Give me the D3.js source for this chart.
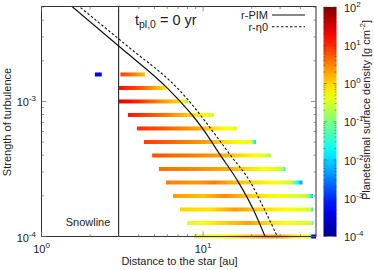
<html>
<head>
<title>Planetesimal surface density</title>
<script src="https://cdn.jsdelivr.net/npm/d3@7"></script>
<style>
body { margin: 0; background: white; }
text { font-family: "Liberation Sans", Arial, sans-serif; fill: #222; }
</style>
</head>
<body>
<svg id="chart" width="374" height="270"></svg>
<script>
// rows of the map: log10(alpha) and the read profile [r (au), log10 sigma]
const rowAlphaExp = [-2.8, -2.9, -3.0, -3.1, -3.2, -3.3, -3.4, -3.5, -3.6, -3.7, -3.8, -3.9, -4.0];
const rowProfiles = [
  [[3.08, 0.85], [3.6, 0.6], [4.38, 0.1]],
  [[3.02, 1.2], [4.0, 0.8], [5.0, 0.3], [5.99, -0.2]],
  [[3.02, 1.4], [4.0, 1.0], [5.5, 0.4], [7.0, 0.0], [8.07, -0.8]],
  [[3.43, 1.15], [5.0, 0.75], [7.0, 0.3], [9.0, -0.1], [11.7, -0.5]],
  [[3.9, 1.0], [6.0, 0.7], [9.0, 0.3], [12.0, -0.1], [16.2, -0.4]],
  [[4.31, 0.9], [7.0, 0.6], [10.0, 0.35], [14.0, -0.1], [20.0, -0.4], [20.6, -1.5], [21.2, -2.2]],
  [[4.84, 0.8], [8.0, 0.55], [12.0, 0.35], [18.0, -0.1], [24.0, -0.4], [26.3, -0.8]],
  [[5.33, 0.6], [9.0, 0.45], [14.0, 0.25], [20.0, -0.1], [28.0, -0.4], [31.0, -0.7], [32.3, -1.8]],
  [[5.9, 0.5], [9.0, 0.35], [11.9, 0.5], [15.0, 0.2], [25.0, -0.2], [35.0, -0.5], [38.0, -1.5], [41.2, -2.5]],
  [[6.52, 0.35], [10.0, 0.1], [13.7, 0.45], [18.0, 0.1], [30.0, -0.3], [44.0, -0.6], [46.0, -1.5], [47.8, -2.2]],
  [[7.2, 0.0], [11.0, -0.1], [15.8, 0.35], [22.0, 0.0], [35.0, -0.3], [46.0, -0.5], [47.8, -2.0]],
  [[7.95, -0.5], [12.0, -0.1], [19.6, 0.3], [26.0, -0.1], [40.0, -0.4], [47.0, -0.5], [47.8, -2.0]],
  [[8.8, -0.5], [14.0, -0.2], [24.0, 0.3], [28.0, 0.4], [35.0, 0.0], [46.0, -0.4], [47.1, -3.5], [50.0, -3.8]]
];
// small blob inside the snowline on the top row
const blobAlphaExp = -2.8;
const blobProfile = [[2.14, -3.3], [2.36, -3.3]];

// r-PIM (solid) and r-eta0 (dashed)
const pimR = [1.5, 3.03, 5.99, 7.21, 8.56, 9.87, 12.76, 16.5, 20.4, 24.2];
const pimA = [5.2e-3, 2.55e-3, 1.26e-3, 1.0e-3, 7.94e-4, 6.37e-4, 4.02e-4, 2.54e-4, 1.6e-4, 1.0e-4];
const etaR = [1.66, 3.43, 6.91, 8.09, 11.07, 14.72, 19.58, 23.9, 28.8];
const etaA = [5.2e-3, 2.55e-3, 1.26e-3, 1.026e-3, 6.37e-4, 4.02e-4, 2.54e-4, 1.6e-4, 1.0e-4];
const snowline = 3.0;
const legendLabels = ["r-PIM", "r-\u03b70"];

const xTicks = [1, 10], xMinor = [2, 3, 4, 5, 6, 7, 8, 9, 20, 30, 40];
const yTicks = [1e-4, 1e-3], yMinor = [2e-4, 3e-4, 4e-4, 5e-4, 6e-4, 7e-4, 8e-4, 9e-4, 2e-3, 3e-3, 4e-3, 5e-3];
const cTicks = [-4, -3, -2, -1, 0, 1, 2];

const L = 41.5, R = 316, T = 6.5, B = 236.5;
const x = d3.scaleLog().domain([1, 50]).range([L, R]);
const y = d3.scaleLog().domain([1e-4, 5.05e-3]).range([B, T]);
const cb = d3.scaleLinear().domain([-4, 2]).range([236.5, 7]);
const jet = d3.scaleLinear()
  .domain([0, 0.125, 0.375, 0.625, 0.875, 1].map(t => -4 + 6 * t))
  .range(["#00008f", "#0000ff", "#00ffff", "#ffff00", "#ff0000", "#800000"])
  .clamp(true);

const svg = d3.select("#chart");
const defs = svg.append("defs");
defs.append("clipPath").attr("id", "plot")
  .append("rect").attr("x", L).attr("y", T).attr("width", R - L).attr("height", B - T);

function bar(profile, aExp, id) {
  const x0 = x(profile[0][0]), x1 = x(profile[profile.length - 1][0]);
  const g = defs.append("linearGradient").attr("id", id)
    .attr("gradientUnits", "userSpaceOnUse")
    .attr("x1", x0).attr("x2", x1).attr("y1", 0).attr("y2", 0);
  for (let j = 0; j < profile.length - 1; j++) {
    const [ra, va] = profile[j], [rb, vb] = profile[j + 1];
    for (let s = 0; s < 4; s++) {
      const f = s / 4;
      const px = x(ra) + (x(rb) - x(ra)) * f;
      g.append("stop").attr("offset", (px - x0) / (x1 - x0)).attr("stop-color", jet(va + (vb - va) * f));
    }
  }
  g.append("stop").attr("offset", 1).attr("stop-color", jet(profile[profile.length - 1][1]));
  svg.append("rect")
    .attr("x", x0).attr("y", y(Math.pow(10, aExp)) - 2)
    .attr("width", x1 - x0).attr("height", 4)
    .attr("fill", "url(#" + id + ")");
}
rowProfiles.forEach((p, i) => bar(p, rowAlphaExp[i], "bar" + i));
bar(blobProfile, blobAlphaExp, "blob");

// snowline
svg.append("line")
  .attr("x1", x(snowline)).attr("x2", x(snowline)).attr("y1", T).attr("y2", B)
  .attr("stroke", "#333").attr("stroke-width", 1.2);

const line = d3.line().x(d => x(d[0])).y(d => y(d[1])).curve(d3.curveMonotoneX);
const curves = svg.append("g").attr("clip-path", "url(#plot)");
curves.append("path").datum(d3.zip(pimR, pimA)).attr("d", line)
  .attr("fill", "none").attr("stroke", "#111").attr("stroke-width", 1.2);
curves.append("path").datum(d3.zip(etaR, etaA)).attr("d", line)
  .attr("fill", "none").attr("stroke", "#111").attr("stroke-width", 1.1).attr("stroke-dasharray", "2.5,2");

// frame and ticks
svg.append("rect").attr("x", L).attr("y", T).attr("width", R - L).attr("height", B - T)
  .attr("fill", "none").attr("stroke", "#333").attr("stroke-width", 1);
const tk = svg.append("g").attr("stroke", "#666").attr("stroke-width", 0.7);
xMinor.concat(xTicks).forEach(v => {
  const len = xTicks.includes(v) ? 5 : 2.5;
  tk.append("line").attr("x1", x(v)).attr("x2", x(v)).attr("y1", B).attr("y2", B - len);
  tk.append("line").attr("x1", x(v)).attr("x2", x(v)).attr("y1", T).attr("y2", T + len);
});
yMinor.concat(yTicks).forEach(v => {
  const len = yTicks.includes(v) ? 5 : 2.5;
  tk.append("line").attr("y1", y(v)).attr("y2", y(v)).attr("x1", L).attr("x2", L + len);
  tk.append("line").attr("y1", y(v)).attr("y2", y(v)).attr("x1", R).attr("x2", R - len);
});

function pow10(sel, e) {
  sel.append("tspan").text("10");
  sel.append("tspan").attr("font-size", 8).attr("dy", -5).text(e);
}
xTicks.forEach(v => {
  svg.append("text").attr("x", x(v)).attr("y", 253).attr("font-size", 11)
    .attr("text-anchor", "middle").call(pow10, Math.round(Math.log10(v)));
});
yTicks.forEach(v => {
  svg.append("text").attr("x", 36).attr("y", y(v) + 5).attr("font-size", 11)
    .attr("text-anchor", "end").call(pow10, Math.round(Math.log10(v)));
});

// axis titles
svg.append("text").attr("x", 179.5).attr("y", 264.5).attr("font-size", 11)
  .attr("text-anchor", "middle").text("Distance to the star [au]");
svg.append("text").attr("transform", "translate(11,122) rotate(-90)").attr("font-size", 11)
  .attr("text-anchor", "middle").text("Strength of turbulence");

// annotations
svg.append("text").attr("x", 88).attr("y", 226).attr("font-size", 11)
  .attr("text-anchor", "middle").text("Snowline");
const title = svg.append("text").attr("x", 135).attr("y", 25).attr("font-size", 14.5);
title.append("tspan").text("t");
title.append("tspan").attr("font-size", 10.5).attr("dy", 3).text("pl,0");
title.append("tspan").attr("dy", -3).text(" = 0 yr");

// legend
legendLabels.forEach((lab, i) => {
  const ly = 15 + i * 11.8;
  svg.append("text").attr("x", 268).attr("y", ly + 4).attr("font-size", 11)
    .attr("text-anchor", "end").text(lab);
  svg.append("line").attr("x1", 272).attr("x2", 305).attr("y1", ly).attr("y2", ly)
    .attr("stroke", "#111").attr("stroke-width", i ? 1.1 : 1.2)
    .attr("stroke-dasharray", i ? "2.5,2" : null);
});

// colorbar
const cg = defs.append("linearGradient").attr("id", "cbar")
  .attr("x1", 0).attr("x2", 0).attr("y1", 1).attr("y2", 0);
d3.range(0, 1.0001, 0.05).forEach(t => {
  cg.append("stop").attr("offset", t).attr("stop-color", jet(-4 + 6 * t));
});
const cx0 = 323.5, cx1 = 336.5;
svg.append("rect").attr("x", cx0).attr("y", cb(2)).attr("width", cx1 - cx0)
  .attr("height", cb(-4) - cb(2)).attr("fill", "url(#cbar)");
const ctk = svg.append("g").attr("stroke", "#333").attr("stroke-width", 0.6).attr("stroke-opacity", 0.7);
cTicks.forEach(e => {
  const sub = e < 2 ? [1, 2, 3, 4, 5, 6, 7, 8, 9] : [1];
  sub.forEach(m => {
    const py = cb(e + Math.log10(m));
    const len = m === 1 ? 3.5 : 1.8;
    ctk.append("line").attr("x1", cx0).attr("x2", cx0 + len).attr("y1", py).attr("y2", py);
    ctk.append("line").attr("x1", cx1).attr("x2", cx1 - len).attr("y1", py).attr("y2", py);
  });
  svg.append("text").attr("x", 344).attr("y", cb(e) + 4.5).attr("font-size", 11)
    .call(pow10, e);
});
const cl = svg.append("text").attr("transform", "translate(370,110) rotate(-90)")
  .attr("font-size", 11).attr("text-anchor", "middle");
cl.append("tspan").text("Planetesimal surface density [g cm");
cl.append("tspan").attr("font-size", 8).attr("dy", -5).text("-2");
cl.append("tspan").attr("dy", 5).text("]");
</script>
</body>
</html>
